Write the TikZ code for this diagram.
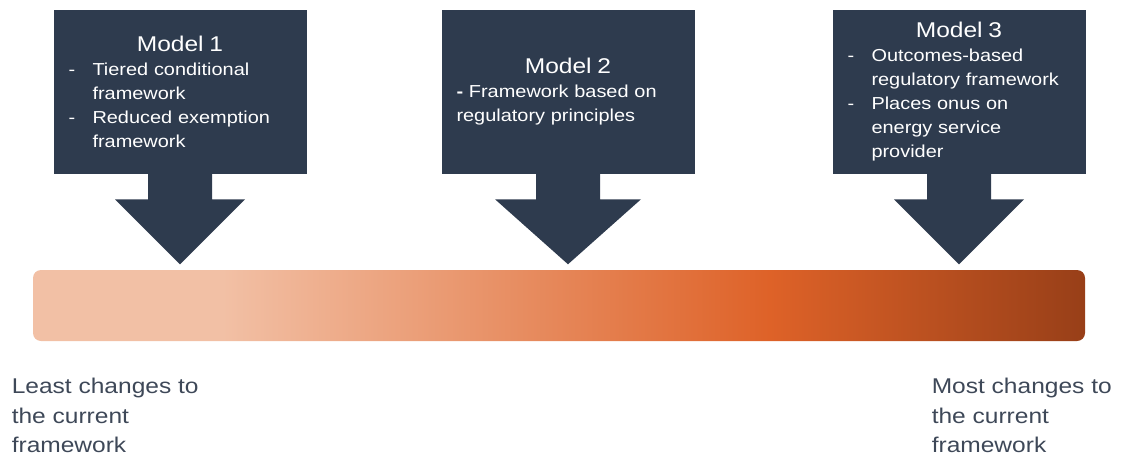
\documentclass[tikz,border=0pt]{standalone}
\usepackage{fontspec}
\setmainfont[FakeStretch=1.15]{Liberation Sans}
\usetikzlibrary{calc}
\definecolor{navy}{RGB}{46,59,78}
\definecolor{inkgrey}{RGB}{62,72,88}
\definecolor{peach}{RGB}{242,192,165}
\definecolor{burnt}{RGB}{222,98,40}
\definecolor{umber}{RGB}{152,63,24}
\pgfdeclarehorizontalshading{changes}{100bp}{color(0bp)=(peach); color(34bp)=(peach); color(60bp)=(burnt); color(75bp)=(umber); color(100bp)=(umber)}
\newcommand\modelhead[1]{{\centering\fontsize{16}{19}\selectfont #1\par}}
\newcommand\dashitem[1]{\hangindent=18pt\hangafter=1\noindent\makebox[18pt][l]{-}#1\par}

\begin{document}
\begin{tikzpicture}[x=0.75pt, y=-0.75pt,
    model/.style={rectangle, fill=navy, text=white, minimum width=189.75pt, minimum height=123pt,
      text width=167.25pt, inner xsep=11.25pt, inner ysep=0pt, align=left, font=\fontsize{13}{18}\selectfont},
    remark/.style={text=inkgrey, anchor=north west, inner sep=0pt, align=left, font=\fontsize{16}{22}\selectfont}]
  \useasboundingbox (0,0) rectangle (1122,457);

  \node[model] (m1) at (180,92) {\modelhead{Model 1}
    \dashitem{Tiered conditional\newline framework}
    \dashitem{Reduced exemption\newline framework}};
  \node[model] (m2) at (568,92) {\modelhead{Model 2}
    \noindent\textbf{-} Framework based on\newline regulatory principles\par};
  \node[model] (m3) at (959,92) {\modelhead{Model 3}
    \dashitem{Outcomes-based\newline regulatory framework}
    \dashitem{Places onus on\newline energy service\newline provider}};

  \foreach \m/\hw in {m1/65, m2/73, m3/65}
    \fill[navy] (\m.south) ++(-32,-1) -- ++(0,26) -- ++(32-\hw,0) -- ++(\hw,65)
      -- ++(\hw,-65) -- ++(32-\hw,0) -- ++(0,-26) -- cycle;

  \shade[shading=changes, rounded corners=6pt] (33,270) rectangle (1085,341);

  \node[remark] (least) at (11.5,378) {Least changes to\\the current\\framework};
  \node[remark] (most) at (931.5,378) {Most changes to\\the current\\framework};
\end{tikzpicture}
\end{document}
